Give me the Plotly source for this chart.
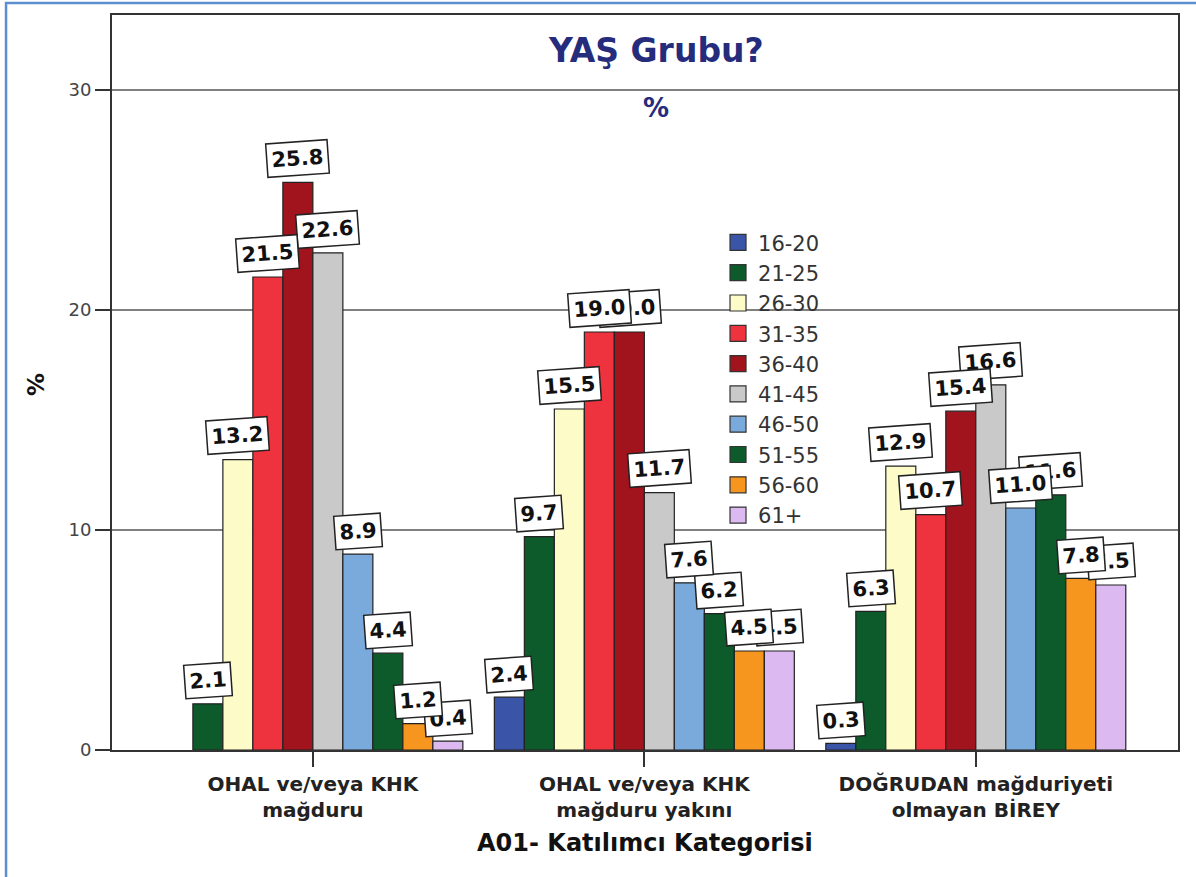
import plotly.graph_objects as go

# ---- data ----
categories = ["OHAL ve/veya KHK<br>mağduru",
              "OHAL ve/veya KHK<br>mağduru yakını",
              "DOĞRUDAN mağduriyeti<br>olmayan BİREY"]
age_groups = ["16-20", "21-25", "26-30", "31-35", "36-40",
              "41-45", "46-50", "51-55", "56-60", "61+"]
# percentages per age group, one value per category
v_16_20 = [None, 2.4, 0.3]
v_21_25 = [2.1, 9.7, 6.3]
v_26_30 = [13.2, 15.5, 12.9]
v_31_35 = [21.5, 19.0, 10.7]
v_36_40 = [25.8, 19.0, 15.4]
v_41_45 = [22.6, 11.7, 16.6]
v_46_50 = [8.9, 7.6, 11.0]
v_51_55 = [4.4, 6.2, 11.6]
v_56_60 = [1.2, 4.5, 7.8]
v_61p = [0.4, 4.5, 7.5]
series = [v_16_20, v_21_25, v_26_30, v_31_35, v_36_40,
          v_41_45, v_46_50, v_51_55, v_56_60, v_61p]
y_ticks = [0, 10, 20, 30]

# ---- styles ----
colors = ["#3a55a8", "#0d5a2b", "#fdfcc8", "#ee323e", "#a1141d",
          "#c9c9c9", "#7aaadb", "#0d5a2b", "#f6961e", "#dcb9f0"]
navy = "#262c7c"
bold = dict(family="DejaVu Sans", weight="bold")

x_pos = list(range(len(categories)))
bargap = 0.095
n = len(age_groups)
slot = (1 - bargap) / n

fig = go.Figure()
for i, (name, vals) in enumerate(zip(age_groups, series)):
    fig.add_trace(go.Bar(
        x=x_pos, y=vals, name=name, legendgroup=name, showlegend=False,
        marker=dict(color=colors[i], line=dict(color="#222222", width=1.2)),
    ))
for i, name in enumerate(age_groups):
    fig.add_trace(go.Scatter(
        x=[None], y=[None], mode="markers", name=name, legendgroup=name,
        marker=dict(symbol="square", size=16, color=colors[i],
                    line=dict(color="#333333", width=1.2)),
    ))

annotations = []
# later series first so earlier labels sit on top
for i in reversed(range(n)):
    for g, v in enumerate(series[i]):
        if v is None:
            continue
        annotations.append(dict(
            x=x_pos[g] + (i - (n - 1) / 2) * slot, y=v, xref="x", yref="y",
            text=f"{v:.1f}", showarrow=False, xanchor="center",
            yanchor="bottom", yshift=4,
            font=dict(size=21, color="#111111", **bold),
            bgcolor="white", bordercolor="#222222", borderwidth=1.5,
            borderpad=4, textangle=-4,
        ))

# titles
annotations += [
    dict(text="YAŞ Grubu?", xref="paper", yref="paper", x=0.51, y=0.952,
         xanchor="center", yanchor="middle",
         showarrow=False, font=dict(size=33, color=navy, **bold)),
    dict(text="%", xref="paper", yref="paper", x=0.51, y=0.873,
         xanchor="center", yanchor="middle",
         showarrow=False, font=dict(size=26, color=navy, **bold)),
    dict(text="%", xref="paper", yref="paper", x=-0.072, y=0.497,
         xanchor="center", yanchor="middle",
         showarrow=False, textangle=-90, font=dict(size=23, color="#111111", **bold)),
    dict(text="A01- Katılımcı Kategorisi", xref="paper", yref="paper",
         x=0.5, y=-0.1265, xanchor="center", yanchor="middle", showarrow=False,
         font=dict(size=24, color="#111111", **bold)),
]

fig.update_layout(
    width=1196, height=877, autosize=False,
    margin=dict(l=112, r=18, t=15, b=127),
    paper_bgcolor="white", plot_bgcolor="white",
    barmode="group", bargap=bargap, bargroupgap=0,
    annotations=annotations,
    legend=dict(x=0.5685, y=0.718, xanchor="left", yanchor="top",
                font=dict(family="DejaVu Sans", size=21, color="#333333"),
                bgcolor="rgba(0,0,0,0)", itemsizing="trace", tracegroupgap=0),
    shapes=[dict(type="rect", xref="paper", yref="paper",
                 x0=-0.0994, x1=1.2, y0=-0.3, y1=1.0163,
                 line=dict(color="#5b8fd0", width=2.5), layer="below")],
)
fig.update_xaxes(
    range=[-0.606, 2.61], tickvals=x_pos, ticktext=categories,
    showgrid=False, zeroline=False,
    showline=True, mirror=True, linecolor="#333333", linewidth=2,
    ticks="outside", ticklen=15, tickwidth=1.5, tickcolor="#333333",
    tickfont=dict(size=20, color="#222222", **bold),
)
fig.update_yaxes(
    range=[0, 33.41], tickvals=y_ticks,
    showgrid=True, gridcolor="#808080", gridwidth=1.5, zeroline=False,
    showline=True, mirror=True, linecolor="#333333", linewidth=2,
    ticks="outside", ticklen=15, tickwidth=1.5, tickcolor="#333333",
    tickfont=dict(family="DejaVu Sans", size=18, color="#444444"),
)

fig.write_html("out.html", config={"displayModeBar": False},
               post_script="document.body.style.margin='0px';document.body.style.overflow='hidden';")
